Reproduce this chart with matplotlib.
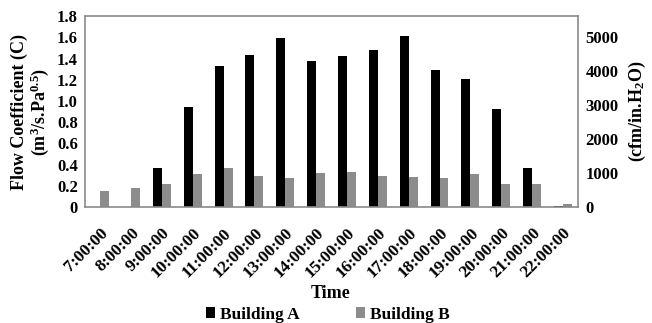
import matplotlib
matplotlib.use("Agg")
import matplotlib.pyplot as plt
import numpy as np

plt.rcParams['font.family'] = 'Liberation Serif'
plt.rcParams['font.weight'] = 'bold'
plt.rcParams['mathtext.fontset'] = 'custom'
plt.rcParams['mathtext.rm'] = 'Liberation Serif:bold'
plt.rcParams['mathtext.it'] = 'Liberation Serif:bold'
plt.rcParams['mathtext.bf'] = 'Liberation Serif:bold'

times = ['7:00:00', '8:00:00', '9:00:00', '10:00:00', '11:00:00', '12:00:00',
         '13:00:00', '14:00:00', '15:00:00', '16:00:00', '17:00:00', '18:00:00',
         '19:00:00', '20:00:00', '21:00:00', '22:00:00']
building_a = [0, 0, 0.37, 0.94, 1.33, 1.43, 1.59, 1.38, 1.42, 1.48, 1.61, 1.29,
              1.21, 0.92, 0.37, 0.01]
building_b = [0.15, 0.18, 0.22, 0.31, 0.37, 0.29, 0.27, 0.32, 0.33, 0.29, 0.28,
              0.27, 0.31, 0.22, 0.22, 0.03]

fig = plt.figure(figsize=(6.52, 3.23), dpi=100)
ax = fig.add_axes([0.130, 0.359, 0.757, 0.591])

x = np.arange(len(times))
w = 0.29
ax.bar(x - w / 2, building_a, w, color='black', label='Building A')
ax.bar(x + w / 2, building_b, w, color='#8c8c8c', label='Building B')

ax.set_xlim(-0.5, len(times) - 0.5)
ax.set_ylim(0, 1.8)
ax.set_yticks(np.arange(0, 1.81, 0.2))
ax.set_yticklabels(['0'] + ['%.1f' % v for v in np.arange(0.2, 1.81, 0.2)])
ax.set_xticks(x)
ax.set_xticklabels(times, rotation=45, ha='right', rotation_mode='anchor')
ax.tick_params(axis='y', length=0, labelsize=12, pad=5)
ax.tick_params(axis='x', length=0, labelsize=12.5, pad=13)
for s in ax.spines.values():
    s.set_color('#8a8a8a')
    s.set_linewidth(1.2)

ax.set_ylabel('Flow Coefficient (C)\n(m$^3$/s.Pa$^{0.5}$)', fontsize=13,
              fontweight='bold', labelpad=4, linespacing=1.05)
fig.text(331 / 652, 1 - 293 / 323, 'Time', fontsize=13, fontweight='bold',
         ha='center', va='center')

ax2 = ax.twinx()
ax2.set_ylim(0, 1.8 * 3120)
ax2.set_yticks([0, 1000, 2000, 3000, 4000, 5000])
ax2.tick_params(length=0, labelsize=12, pad=5)
for s in ax2.spines.values():
    s.set_visible(False)
ax2.set_ylabel('(cfm/in.H$_2$O)', fontsize=13, fontweight='bold', labelpad=6)

fig.legend(loc='center', bbox_to_anchor=(0.503, 0.026), ncol=2,
           frameon=False, fontsize=12.5, handlelength=0.55, handleheight=0.55,
           handletextpad=0.3, columnspacing=3.2)

fig.savefig('out.png', dpi=100)
